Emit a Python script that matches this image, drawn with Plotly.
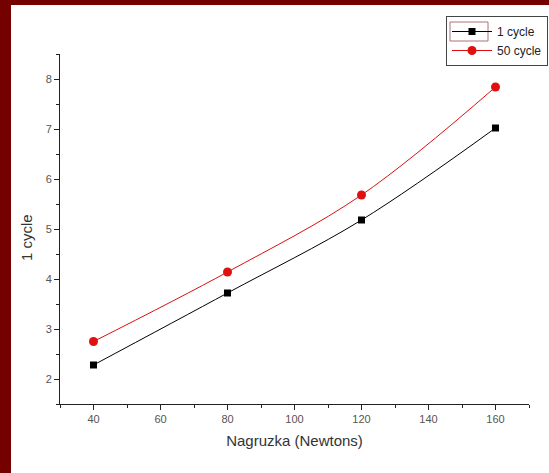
import plotly.graph_objects as go

# Load (N) and measured values for the two cycle counts
load_n = [40, 80, 120, 160]
cycle_1 = [2.28, 3.72, 5.18, 7.02]
cycle_50 = [2.75, 4.14, 5.68, 7.84]
series_names = ["1 cycle", "50 cycle"]

x_ticks = [40, 60, 80, 100, 120, 140, 160]
y_ticks = [2, 3, 4, 5, 6, 7, 8]

W, H = 549, 473
ML, MR, MT, MB = 60, 20, 54, 69
PW, PH = W - ML - MR, H - MT - MB


def px(x):
    return (x - ML) / PW


def py(y):
    return (H - MB - y) / PH


fig = go.Figure()
fig.add_trace(go.Scatter(
    x=load_n, y=cycle_1, name=series_names[0], mode="lines+markers",
    line=dict(color="black", width=1, shape="spline", smoothing=1),
    marker=dict(symbol="square", size=7, color="black"),
))
fig.add_trace(go.Scatter(
    x=load_n, y=cycle_50, name=series_names[1], mode="lines+markers",
    line=dict(color="#d81010", width=1, shape="spline", smoothing=1),
    marker=dict(symbol="circle", size=9, color="#e01010"),
))

axis_font = dict(family="Arial, Liberation Sans, sans-serif", size=11, color="#555")
title_font = dict(family="Arial, Liberation Sans, sans-serif", size=15, color="#333")

fig.update_xaxes(
    range=[30, 170], tickvals=x_ticks, ticks="outside", ticklen=5, tickwidth=1,
    tickcolor="#222", showline=True, linecolor="#222", linewidth=1,
    showgrid=False, zeroline=False, tickfont=axis_font,
    minor=dict(ticks="outside", dtick=10, tick0=30, ticklen=3, tickcolor="#222", showgrid=False),
    title=dict(text="Nagruzka (Newtons)", font=title_font, standoff=11),
)
fig.update_yaxes(
    range=[1.5, 8.5], tickvals=y_ticks, ticks="outside", ticklen=5, tickwidth=1,
    tickcolor="#222", showline=True, linecolor="#222", linewidth=1,
    showgrid=False, zeroline=False, tickfont=axis_font,
    minor=dict(ticks="outside", dtick=0.5, tick0=1.5, ticklen=3, tickcolor="#222", showgrid=False),
)

# y-axis title placed by hand, slightly below the plot's midpoint
fig.add_annotation(text="1 cycle", xref="paper", yref="paper",
                   x=px(26), y=py(238), xanchor="center", yanchor="middle",
                   textangle=-90, showarrow=False, font=title_font)

# Dark red frame along the left and top edges of the page
frame = "#750000"
fig.add_shape(type="rect", xref="paper", yref="paper",
              x0=px(0), x1=px(11), y0=py(H + 5), y1=py(-5),
              fillcolor=frame, line=dict(width=0), layer="above")
fig.add_shape(type="rect", xref="paper", yref="paper",
              x0=px(-5), x1=px(W + 5), y0=py(5), y1=py(-5),
              fillcolor=frame, line=dict(width=0), layer="above")
# highlight box around the first legend symbol
fig.add_shape(type="rect", xref="paper", yref="paper",
              x0=px(450), x1=px(488), y0=py(41), y1=py(22),
              line=dict(color="#b07070", width=1), layer="above")

fig.update_layout(
    width=W, height=H,
    margin=dict(l=ML, r=MR, t=MT, b=MB, autoexpand=False),
    paper_bgcolor="white", plot_bgcolor="white",
    font=dict(family="Arial, Liberation Sans, sans-serif"),
    legend=dict(
        x=px(446), y=py(16), xanchor="left", yanchor="top",
        bordercolor="#444", borderwidth=1, bgcolor="rgba(255,255,255,0)",
        font=dict(family="Arial, Liberation Sans, sans-serif", size=12, color="#222"),
        itemwidth=40, tracegroupgap=0,
    ),
)

fig.write_html("out.html")
